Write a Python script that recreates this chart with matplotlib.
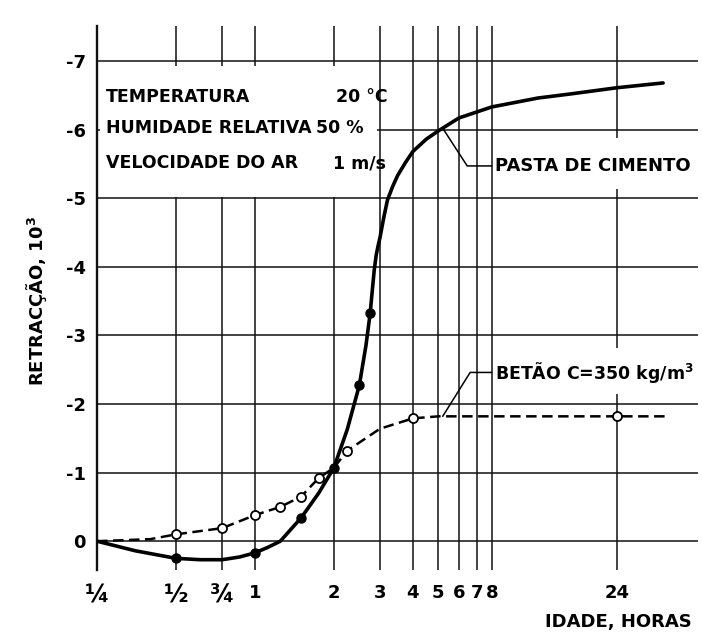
import matplotlib
matplotlib.use("Agg")
import matplotlib.pyplot as plt
from matplotlib.patches import Rectangle
from matplotlib.ticker import FixedLocator, FixedFormatter, NullLocator

plt.rcParams['font.family'] = ['DejaVu Sans']
plt.rcParams['font.weight'] = 'bold'
plt.rcParams['mathtext.default'] = 'bf'

# Age axis (hours, log scale) ticks
age_ticks = [0.25, 0.5, 0.75, 1, 2, 3, 4, 5, 6, 7, 8, 24]
age_labels = ['¼', '½', '¾', '1', '2', '3', '4', '5', '6', '7', '8', '24']

# Shrinkage axis ticks (10^-3)
shr_ticks = [-7, -6, -5, -4, -3, -2, -1, 0]
shr_labels = ['-7', '-6', '-5', '-4', '-3', '-2', '-1', '0']

# Cement paste: traced curve
paste_t = [0.25, 0.35, 0.5, 0.62, 0.75, 0.875, 1.0, 1.12, 1.25, 1.5, 1.75, 2.0,
           2.25, 2.5, 2.65, 2.75, 2.8, 2.85, 2.9, 2.95, 3.0, 3.1, 3.2, 3.35, 3.5,
           3.75, 4.0, 4.5, 5.0, 6.0, 8.0, 12.0, 16.0, 24.0, 36.0]
paste_v = [0.0, 0.14, 0.25, 0.27, 0.27, 0.23, 0.17, 0.09, 0.0, -0.34, -0.70, -1.07,
           -1.63, -2.27, -2.85, -3.32, -3.64, -3.95, -4.17, -4.31, -4.43, -4.72,
           -4.97, -5.17, -5.33, -5.52, -5.68, -5.86, -5.98, -6.17, -6.33, -6.46,
           -6.52, -6.61, -6.68]
# Cement paste: measured points
paste_pt_t = [0.5, 1.0, 1.5, 2.0, 2.5, 2.75]
paste_pt_v = [0.25, 0.17, -0.34, -1.07, -2.27, -3.32]

# Concrete C=350 kg/m3: traced curve
conc_t = [0.25, 0.4, 0.5, 0.75, 1.0, 1.25, 1.5, 1.75, 2.0, 2.25, 3.0, 4.0, 5.0,
          8.0, 24.0, 37.0]
conc_v = [0.0, -0.03, -0.10, -0.19, -0.38, -0.50, -0.65, -0.92, -1.07, -1.32,
          -1.64, -1.79, -1.82, -1.82, -1.82, -1.82]
# Concrete: measured points
conc_pt_t = [0.5, 0.75, 1.0, 1.25, 1.5, 1.75, 2.25, 4.0, 24.0]
conc_pt_v = [-0.10, -0.19, -0.38, -0.50, -0.65, -0.92, -1.32, -1.79, -1.82]

W, H = 702, 639
fig = plt.figure(figsize=(W / 100, H / 100), dpi=100)
ax = fig.add_axes([97 / W, 1 - 570 / H, 601 / W, 544 / H])

ax.set_xscale('log')
ax.set_xlim(0.25, 48.9)
ax.set_ylim(0.42, -7.51)

ax.xaxis.set_major_locator(FixedLocator(age_ticks))
ax.xaxis.set_major_formatter(FixedFormatter(age_labels))
ax.xaxis.set_minor_locator(NullLocator())
ax.yaxis.set_major_locator(FixedLocator(shr_ticks))
ax.yaxis.set_major_formatter(FixedFormatter(shr_labels))

ax.tick_params(axis='both', length=0, labelsize=13)
ax.tick_params(axis='x', pad=10)
ax.tick_params(axis='y', pad=8)
for lab in ax.get_xticklabels():
    if lab.get_text() in ('¼', '½', '¾'):
        lab.set_fontsize(17)

for s in ('top', 'right', 'bottom'):
    ax.spines[s].set_visible(False)
ax.spines['left'].set_linewidth(1.7)
ax.spines['left'].set_color('#111111')

ax.set_axisbelow(True)
ax.grid(True, which='major', color='#111111', linewidth=1.1)

# White panels behind the text blocks
panel = dict(transform=ax.transAxes, facecolor='white', edgecolor='none', zorder=1)
ax.add_patch(Rectangle((0.005, 0.686), 0.461, 0.240, **panel))
ax.add_patch(Rectangle((0.661, 0.700), 0.339, 0.094, **panel))
ax.add_patch(Rectangle((0.661, 0.324), 0.339, 0.084, **panel))

# Curves
ax.plot(paste_t, paste_v, color='black', linewidth=2.6, solid_capstyle='round',
        solid_joinstyle='round', zorder=3)
ax.plot(conc_t, conc_v, color='black', linewidth=1.8, dashes=(4.2, 2.2), zorder=3)
ax.plot(paste_pt_t, paste_pt_v, linestyle='none', marker='o', markersize=6.5,
        markerfacecolor='black', markeredgecolor='black', zorder=4)
ax.plot(conc_pt_t, conc_pt_v, linestyle='none', marker='o', markersize=6.5,
        markerfacecolor='white', markeredgecolor='black', markeredgewidth=1.3,
        zorder=4)

# Test conditions
tk = dict(transform=ax.transAxes, fontsize=12.5, va='center', ha='left', zorder=5)
ax.text(0.015, 0.8695, 'TEMPERATURA', **tk)
ax.text(0.398, 0.8695, '20 °C', **tk)
ax.text(0.015, 0.8125, 'HUMIDADE RELATIVA', **tk)
ax.text(0.364, 0.8125, '50 %', **tk)
ax.text(0.015, 0.748, 'VELOCIDADE DO AR', **tk)
ax.text(0.393, 0.748, '1 m/s', **tk)

# Curve labels with leader lines
lead = dict(arrowstyle='-', color='black', linewidth=1.1, shrinkA=0, shrinkB=0,
            relpos=(0, 0.5))
ax.annotate('PASTA DE CIMENTO', xy=(5.2, -6.02), xytext=(8.2, -5.47),
            fontsize=13, ha='left', va='center', zorder=5,
            arrowprops=dict(connectionstyle='angle,angleA=0,angleB=-57,rad=0', **lead))
ax.annotate('BETÃO C=350 kg/m$^{3}$', xy=(5.2, -1.82), xytext=(8.2, -2.46),
            fontsize=12.5, ha='left', va='center', zorder=5,
            arrowprops=dict(connectionstyle='angle,angleA=0,angleB=58,rad=0', **lead))

fig.text(37 / W, 1 - 301 / H, 'RETRACÇÃO, 10$^{3}$', rotation=90, ha='center',
         va='center', fontsize=13)
fig.text(692 / W, 1 - 622 / H, 'IDADE, HORAS', ha='right', va='center',
         fontsize=13)

fig.savefig('out.png', dpi=100, facecolor='white')
